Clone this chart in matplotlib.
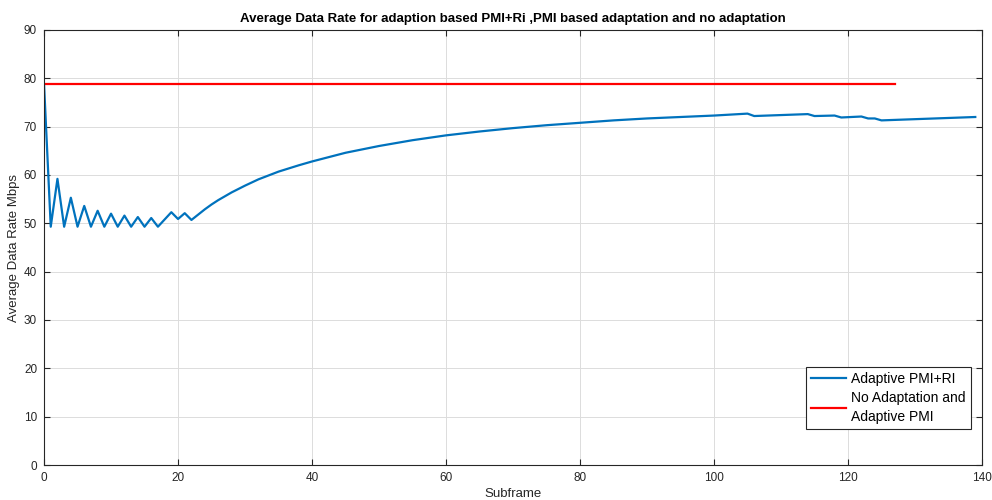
import numpy as np
import matplotlib.pyplot as plt

plt.rcParams['font.family'] = ['Liberation Sans', 'DejaVu Sans']

# Adaptive PMI+RI curve
sub_adapt = [0, 1, 2, 3, 4, 5, 6, 7, 8, 9, 10, 11, 12, 13, 14, 15, 16, 17,
             19, 20, 21, 22, 23, 24, 25, 26, 28, 30, 32, 35, 38, 40, 45, 50,
             55, 60, 65, 70, 75, 80, 85, 90, 95, 100, 105, 106, 114, 115,
             118, 119, 122, 123, 124, 125, 139]
rate_adapt = [78.8, 49.3, 59.2, 49.3, 55.3, 49.3, 53.6, 49.3, 52.6, 49.3,
              52.0, 49.3, 51.6, 49.3, 51.3, 49.3, 51.1, 49.3,
              52.3, 50.9, 52.1, 50.7, 51.8, 52.9, 53.9, 54.8, 56.4, 57.8,
              59.1, 60.7, 62.0, 62.8, 64.6, 66.0, 67.2, 68.2, 69.0, 69.7,
              70.3, 70.8, 71.3, 71.7, 72.0, 72.3, 72.7, 72.2, 72.6, 72.2,
              72.3, 71.9, 72.1, 71.7, 71.7, 71.3, 72.0]

# No adaptation / adaptive PMI: flat
sub_noadapt = [0, 127]
rate_noadapt = [78.8, 78.8]

fig = plt.figure(figsize=(9.92, 5.0), dpi=100)
ax = fig.add_axes([0.0444, 0.07, 0.9455, 0.87])

ax.plot(sub_adapt, rate_adapt, color='#0072BD', lw=1.6, label='Adaptive PMI+RI')
ax.plot(sub_noadapt, rate_noadapt, color='#FF0000', lw=1.6,
        label='No Adaptation and\nAdaptive PMI')

ax.set_xlim(0, 140)
ax.set_ylim(0, 90)
ax.set_xticks(np.arange(0, 141, 20))
ax.set_yticks(np.arange(0, 91, 10))
ax.grid(True, color='#dcdcdc', lw=0.7)
ax.set_axisbelow(True)
for s in ax.spines.values():
    s.set_color('#262626')
    s.set_linewidth(0.8)
ax.tick_params(direction='in', top=True, right=True, labelsize=8.5,
               colors='#262626', length=4, width=0.8, pad=5)

ax.set_title('Average Data Rate for adaption based PMI+Ri ,PMI based adaptation and no adaptation',
             fontsize=9.5, fontweight='bold', pad=6)
ax.set_xlabel('Subframe', fontsize=9.5, color='#262626', labelpad=3)
ax.set_ylabel('Average Data Rate Mbps', fontsize=9.5, color='#262626', labelpad=3)

leg = ax.legend(loc='lower right', bbox_to_anchor=(0.988, 0.083), fontsize=10,
                fancybox=False, framealpha=1, edgecolor='#262626',
                handlelength=2.5, handletextpad=0.4, borderpad=0.35,
                labelspacing=0.35, borderaxespad=0)
leg.get_frame().set_linewidth(0.8)
for t in leg.get_texts():
    t.set_linespacing(1.45)

fig.savefig('out.png', dpi=100)
